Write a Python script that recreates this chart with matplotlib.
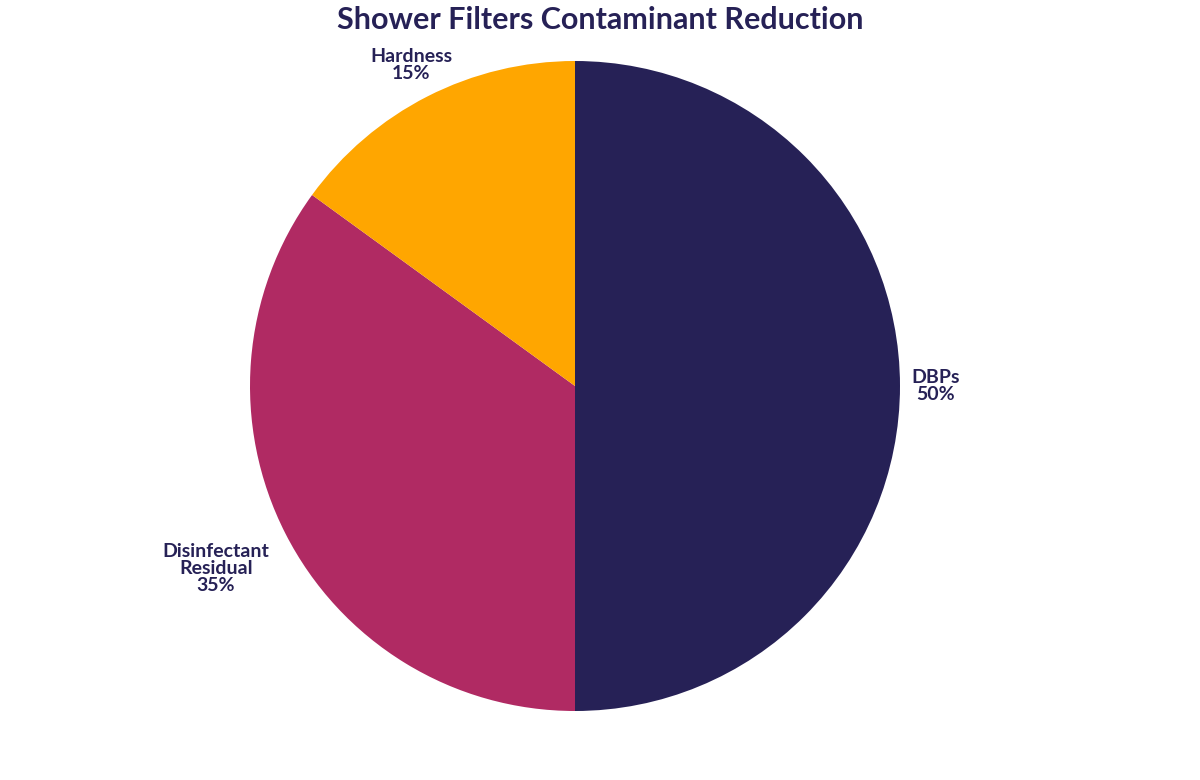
import numpy as np
import matplotlib.pyplot as plt

labels = ["DBPs", "Disinfectant\nResidual", "Hardness"]
values = [50, 35, 15]
colors = ["#262156", "#b02a63", "#ffa600"]
label_dist = [1.11, 1.24, 1.11]

plt.rcParams['font.family'] = ['Lato', 'DejaVu Sans']

fig = plt.figure(figsize=(12, 7.8), dpi=100)
ax = fig.add_axes([250/1200, 69/780, 650/1200, 650/780])
wedges, _ = ax.pie(values, colors=colors, startangle=90, counterclock=False,
                   radius=1.0, wedgeprops=dict(linewidth=0))
ax.set_xlim(-1, 1)
ax.set_ylim(-1, 1)
ax.set_aspect('equal')

for w, lab, v, d in zip(wedges, labels, values, label_dist):
    th = np.deg2rad((w.theta1 + w.theta2) / 2)
    ax.text(d*np.cos(th), d*np.sin(th), f"{lab}\n{v}%", ha='center', va='center',
            fontsize=14, fontweight='bold', color="#262156", linespacing=1.0,
            clip_on=False)

fig.text(0.5, 1 - 20/780, "Shower Filters Contaminant Reduction", ha='center', va='center',
         fontsize=22, fontweight='bold', color="#262156")

fig.savefig("out.png", dpi=100)
